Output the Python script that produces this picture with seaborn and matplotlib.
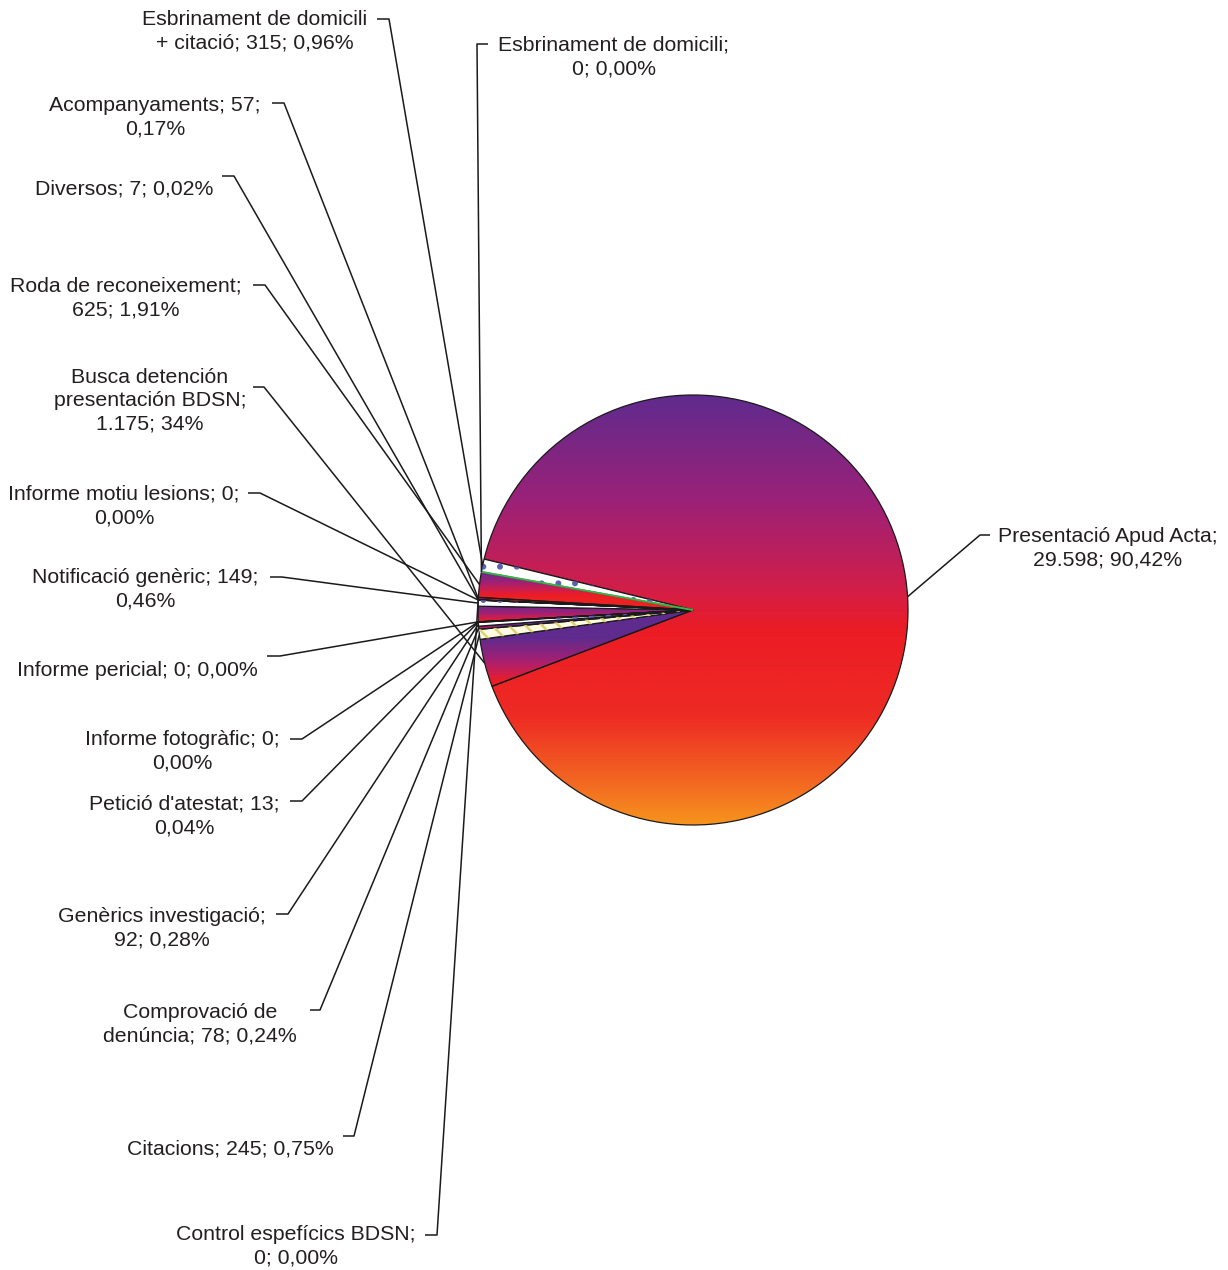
import numpy as np
import matplotlib
matplotlib.use("Agg")
from matplotlib import pyplot as plt
from matplotlib.colors import LinearSegmentedColormap
from matplotlib.patches import Wedge
import seaborn as sns


# slices in clockwise order, starting with the big one
categories = [
    "Presentació Apud Acta",
    "Busca detención presentación BDSN",
    "Citacions",
    "Comprovació de denúncia",
    "Genèrics investigació",
    "Petició d'atestat",
    "Informe fotogràfic",
    "Informe pericial",
    "",  # unlabelled slice
    "Notificació genèric",
    "Informe motiu lesions",
    "Control espefícics BDSN",
    "Diversos",
    "Acompanyaments",
    "Roda de reconeixement",
    "Esbrinament de domicili",
    "Esbrinament de domicili + citació",
]
values = [29598, 1175, 245, 78, 92, 13, 0, 0, 380, 149, 0, 0, 7, 57, 625, 0, 315]
labels = [
    "Presentació Apud Acta;\n29.598; 90,42%",
    "Busca detención\npresentación BDSN;\n1.175; 34%",
    "Citacions; 245; 0,75%",
    "Comprovació de\ndenúncia; 78; 0,24%",
    "Genèrics investigació;\n92; 0,28%",
    "Petició d'atestat; 13;\n0,04%",
    "Informe fotogràfic; 0;\n0,00%",
    "Informe pericial; 0; 0,00%",
    "",
    "Notificació genèric; 149;\n0,46%",
    "Informe motiu lesions; 0;\n0,00%",
    "Control espefícics BDSN;\n0; 0,00%",
    "Diversos; 7; 0,02%",
    "Acompanyaments; 57;\n0,17%",
    "Roda de reconeixement;\n625; 1,91%",
    "Esbrinament de domicili;\n0; 0,00%",
    "Esbrinament de domicili\n+ citació; 315; 0,96%",
]

# fill style per slice: gradient, dots, stripes, none
fills = ["grad", "grad", "stripes", "grad", "dots", "grad", "none", "none",
         "grad", "dots", "none", "none", "grad", "grad", "grad", "green", "dots"]

# label layout in pixels (text centre x, y, tick x0, tick x1, tick y)
layout = [
    (1108, 548, 990, 980, 535),
    (150, 401, 253, 264, 387),
    (230, 1149, 343, 354, 1136),
    (200, 1024, 310, 320, 1010),
    (162, 928, 276, 288, 914),
    (184, 816, 290, 302, 801),
    (182, 751, 290, 302, 739),
    (137, 670, 267, 280, 656),
    None,
    (145, 589, 270, 282, 577),
    (124, 506, 248, 260, 493),
    (296, 1246, 425, 437, 1235),
    (124, 189, 222, 234, 176),
    (155, 117, 272, 284, 103),
    (126, 298, 253, 265, 285),
    (614, 57, 488, 477, 44),
    (255, 31, 377, 389, 19),
]

W, H = 1228, 1270
CENTER = (693, H - 610)
RADIUS = 215

fire = LinearSegmentedColormap.from_list(
    "fire",
    [(0.0, "#5f2b8e"), (0.25, "#9c2177"), (0.45, "#d21e4a"), (0.55, "#ec1c24"),
     (0.75, "#ee2b24"), (0.9, "#f26722"), (1.0, "#f7941d")],
)

sns.set_theme(style="white")
plt.rcParams["font.family"] = ["Liberation Sans", "DejaVu Sans"]
plt.rcParams["hatch.linewidth"] = 1.8

fig = plt.figure(figsize=(W / 100, H / 100), dpi=100)
ax = fig.add_axes([0, 0, 1, 1])

wedges, _ = ax.pie(
    values,
    startangle=166.3,
    counterclock=False,
    center=CENTER,
    radius=RADIUS,
    frame=True,
    wedgeprops=dict(edgecolor="#1a1a1a", linewidth=0.9),
)

for w, fill in zip(wedges, fills):
    verts = w.get_path().vertices
    x0, x1 = verts[:, 0].min(), verts[:, 0].max()
    y0, y1 = verts[:, 1].min(), verts[:, 1].max()
    if fill == "grad":
        w.set_facecolor("none")
        if w.theta2 - w.theta1 < 90:
            # small slices: purple to red over the arc end of the slice
            ang = np.deg2rad(np.linspace(w.theta1, w.theta2, 20))
            arc_y = w.center[1] + w.r * np.sin(ang)
            a0, a1 = arc_y.min() - 1, arc_y.max() + 1
            tmax = 0.62
        else:
            a0, a1 = y0, y1
            tmax = 1.0
        rows = np.linspace(y1, y0, 300)
        t = tmax * np.clip((a1 - rows) / (a1 - a0), 0, 1).reshape(-1, 1)
        im = ax.imshow(t, cmap=fire, vmin=0, vmax=1, extent=(x0, x1, y0, y1),
                       origin="upper", aspect="auto", zorder=0.5,
                       interpolation="bilinear")
        im.set_clip_path(w)
    elif fill == "dots":
        w.set_facecolor("white")
        ax.add_patch(Wedge(w.center, w.r, w.theta1, w.theta2, facecolor="none",
                           edgecolor="#5a5fb0", hatch=".", linewidth=0, zorder=1.1))
    elif fill == "stripes":
        w.set_facecolor("#fffbe0")
        ax.add_patch(Wedge(w.center, w.r, w.theta1, w.theta2, facecolor="none",
                           edgecolor="#ddd07a", hatch="\\\\", linewidth=0, zorder=1.1))
    elif fill == "green":
        w.set_edgecolor("#3cb44a")
        w.set_linewidth(1.4)
        w.set_zorder(1.5)
    else:
        w.set_facecolor("none")

# labels with leader lines
for w, text, lay in zip(wedges, labels, layout):
    if lay is None:
        continue
    tx, ty, kx0, kx1, ky = lay
    mid = np.deg2rad((w.theta1 + w.theta2) / 2)
    px = w.center[0] + w.r * np.cos(mid)
    py = w.center[1] + w.r * np.sin(mid)
    ax.plot([kx0, kx1, px], [H - ky, H - ky, py], color="#1a1a1a", lw=1.1,
            solid_capstyle="butt", zorder=2)
    ax.text(tx, H - ty, text, ha="center", va="center", multialignment="center",
            fontsize=15.3, color="#231f20", linespacing=1.3)

ax.set_xlim(0, W)
ax.set_ylim(0, H)
ax.set_aspect("auto")
ax.axis("off")

fig.savefig("out.png", dpi=100, facecolor="white")
